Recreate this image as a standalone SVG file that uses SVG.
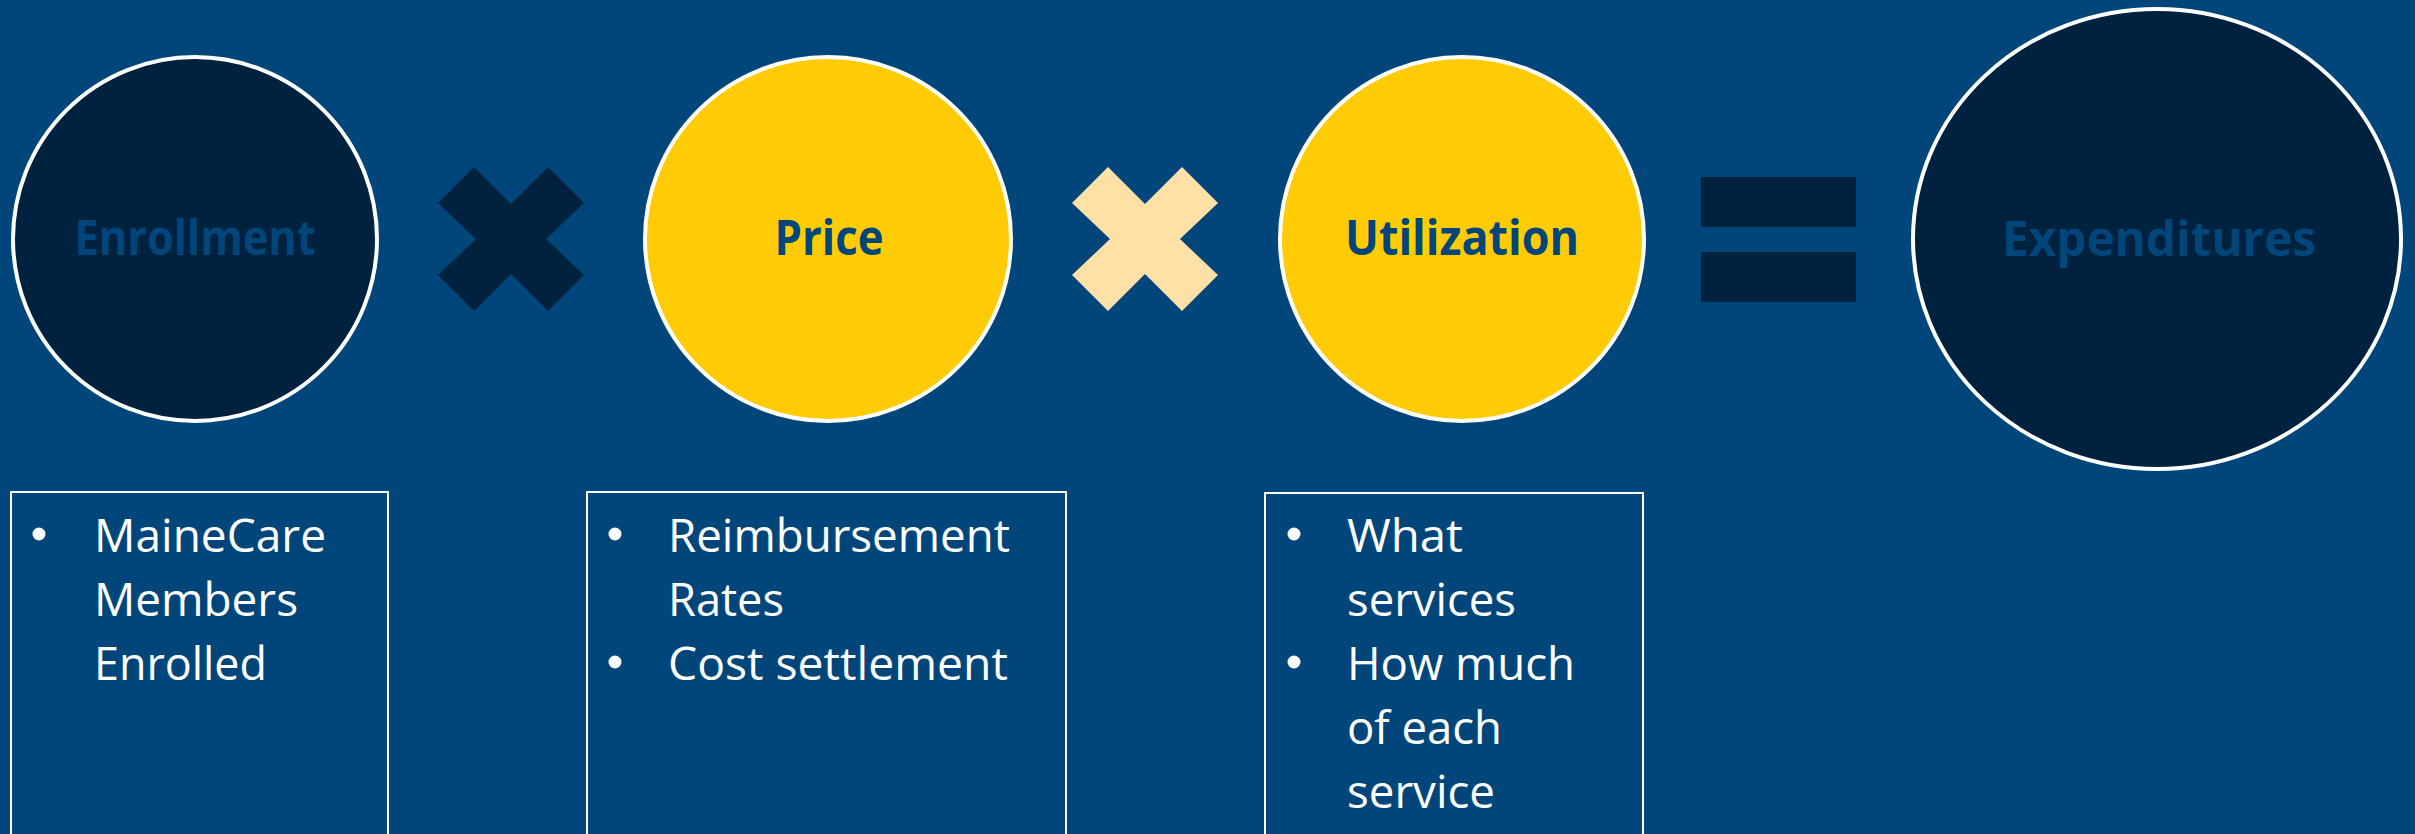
<svg xmlns="http://www.w3.org/2000/svg" width="2415" height="834" viewBox="0 0 2415 834">
<style>
.bg{fill:#01467A}
.c{stroke:#FFFFFF;stroke-width:4}
.dark{fill:#00223F}
.yel{fill:#FFCB05}
.lbl{font-family:"Open Sans","Liberation Sans",sans-serif;font-weight:700;font-size:49px;fill:#01467A;text-anchor:middle}
.box{fill:none;stroke:#FFFFFF;stroke-width:2}
.t{font-family:"Open Sans","Liberation Sans",sans-serif;font-size:46px;fill:#FFFFFF}
.dot{fill:#FFFFFF}
</style>
<defs>
<polygon id="xs" points="0,-35 37,-72 73,-36 35,0 73,36 37,72 0,35 -37,72 -73,36 -35,0 -73,-36 -37,-72"/>
</defs>
<rect class="bg" x="0" y="0" width="2415" height="834"/>
<g id="enrollment">
<ellipse class="c dark" cx="195" cy="239" rx="182" ry="182"/>
<text class="lbl" x="195" y="255" textLength="241" lengthAdjust="spacingAndGlyphs">Enrollment</text>
</g>
<g id="times1"><use href="#xs" x="511" y="239" fill="#00223F"/></g>
<g id="price">
<ellipse class="c yel" cx="828" cy="239" rx="183" ry="182"/>
<text class="lbl" x="829" y="255" textLength="109" lengthAdjust="spacingAndGlyphs">Price</text>
</g>
<g id="times2"><use href="#xs" x="1145" y="239" fill="#FFE0A6"/></g>
<g id="utilization">
<ellipse class="c yel" cx="1462" cy="239" rx="182" ry="182"/>
<text class="lbl" x="1462" y="255" textLength="234" lengthAdjust="spacingAndGlyphs">Utilization</text>
</g>
<g id="equals">
<rect x="1701" y="177" width="155" height="50" fill="#00223F"/>
<rect x="1701" y="252" width="155" height="50" fill="#00223F"/>
</g>
<g id="expenditures">
<ellipse class="c dark" cx="2157" cy="239" rx="244" ry="230"/>
<text class="lbl" x="2159" y="256" textLength="314" lengthAdjust="spacingAndGlyphs">Expenditures</text>
</g>
<g id="box-enrollment">
<rect class="box" x="11" y="492" width="377" height="360"/>
<circle class="dot" cx="39" cy="534" r="6.5"/>
<text class="t" x="94" y="552" textLength="232" lengthAdjust="spacingAndGlyphs">MaineCare</text>
<text class="t" x="94" y="616" textLength="204" lengthAdjust="spacingAndGlyphs">Members</text>
<text class="t" x="94" y="680" textLength="173" lengthAdjust="spacingAndGlyphs">Enrolled</text>
</g>
<g id="box-price">
<rect class="box" x="587" y="492" width="479" height="360"/>
<circle class="dot" cx="615" cy="534" r="6.5"/>
<text class="t" x="668" y="552" textLength="342" lengthAdjust="spacingAndGlyphs">Reimbursement</text>
<text class="t" x="668" y="616" textLength="116" lengthAdjust="spacingAndGlyphs">Rates</text>
<circle class="dot" cx="615" cy="662" r="6.5"/>
<text class="t" x="668" y="680" textLength="340" lengthAdjust="spacingAndGlyphs">Cost settlement</text>
</g>
<g id="box-utilization">
<rect class="box" x="1265" y="493" width="378" height="360"/>
<circle class="dot" cx="1294" cy="534" r="6.5"/>
<text class="t" x="1347" y="552" textLength="116" lengthAdjust="spacingAndGlyphs">What</text>
<text class="t" x="1347" y="616" textLength="169" lengthAdjust="spacingAndGlyphs">services</text>
<circle class="dot" cx="1294" cy="662" r="6.5"/>
<text class="t" x="1347" y="680" textLength="228" lengthAdjust="spacingAndGlyphs">How much</text>
<text class="t" x="1347" y="744" textLength="155" lengthAdjust="spacingAndGlyphs">of each</text>
<text class="t" x="1347" y="808" textLength="148" lengthAdjust="spacingAndGlyphs">service</text>
</g>
<g id="connectors"></g>
</svg>
